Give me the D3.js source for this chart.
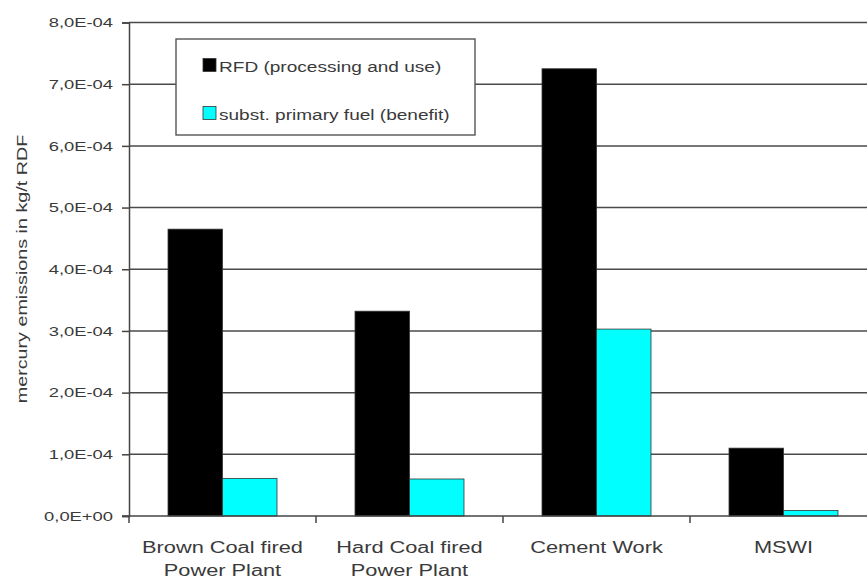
<!DOCTYPE html>
<html>
<head>
<meta charset="utf-8">
<script src="https://cdn.jsdelivr.net/npm/d3@7"></script>
<style>
  html, body { margin: 0; padding: 0; background: #fff; }
  svg { display: block; }
</style>
</head>
<body>
<svg id="chart" width="867" height="583"></svg>
<script>
// Plant types on the x axis (two-line labels)
const categories = ["Brown Coal fired\nPower Plant", "Hard Coal fired\nPower Plant", "Cement Work", "MSWI"];
// Mercury emissions, kg/t RDF
const rfdValues = [4.65e-4, 3.32e-4, 7.25e-4, 1.10e-4];
const benefitValues = [0.61e-4, 0.60e-4, 3.03e-4, 0.09e-4];
const seriesNames = ["RFD (processing and use)", "subst. primary fuel (benefit)"];
const seriesColors = ["#000000", "#00ffff"];
const yTicks = [0, 1e-4, 2e-4, 3e-4, 4e-4, 5e-4, 6e-4, 7e-4, 8e-4];
const yTickLabels = ["0,0E+00", "1,0E-04", "2,0E-04", "3,0E-04", "4,0E-04", "5,0E-04", "6,0E-04", "7,0E-04", "8,0E-04"];

const svg = d3.select("#chart");
const plotLeft = 129, plotRight = 877, plotTop = 22.5, plotBottom = 516;
const font = "Liberation Sans, Arial, sans-serif";
const textColor = "#3a3a3a";
const widen = 1.36; // wide-set lettering

// stretch a text element horizontally along its own baseline
function stretch(sel) {
  sel.each(function () {
    const w = this.getComputedTextLength();
    if (w > 0) d3.select(this).attr("textLength", w * widen).attr("lengthAdjust", "spacingAndGlyphs");
  });
}

const y = d3.scaleLinear().domain([0, 8e-4]).range([plotBottom, plotTop]);
const x0 = d3.scaleBand().domain(categories).range([plotLeft, plotRight]).padding(0);
const x1 = d3.scaleBand().domain([0, 1]).range([0, x0.bandwidth()])
  .paddingInner(0).paddingOuter(0.716);

// horizontal gridlines
svg.append("g").selectAll("line").data(yTicks.slice(1)).join("line")
  .attr("x1", plotLeft).attr("x2", plotRight)
  .attr("y1", d => y(d)).attr("y2", d => y(d))
  .attr("stroke", "#4a4a4a").attr("stroke-width", 1.5);

// bars
const rows = categories.map((c, i) => ({ c, vals: [rfdValues[i], benefitValues[i]] }));
const groups = svg.append("g").selectAll("g").data(rows).join("g")
  .attr("transform", d => `translate(${x0(d.c)},0)`);
groups.selectAll("rect").data(d => d.vals.map((v, k) => ({ v, k }))).join("rect")
  .attr("x", d => x1(d.k))
  .attr("width", x1.bandwidth())
  .attr("y", d => y(d.v))
  .attr("height", d => plotBottom - y(d.v))
  .attr("fill", d => seriesColors[d.k])
  .attr("stroke", "#333").attr("stroke-width", 0.8);

// y axis
const yAxis = d3.axisLeft(y).tickValues(yTicks).tickSize(7).tickPadding(9)
  .tickFormat((d, i) => yTickLabels[i]);
const gy = svg.append("g").attr("transform", `translate(${plotLeft},0)`).call(yAxis);
gy.select(".domain").attr("stroke", "#444").attr("stroke-width", 1.5);
gy.selectAll(".tick line").attr("stroke", "#444").attr("stroke-width", 1.5);
gy.selectAll(".tick text").attr("font-family", font).attr("font-size", 13.5).attr("fill", textColor)
  .call(stretch);

// x axis baseline with tick marks between categories
const gx = svg.append("g");
gx.append("line").attr("x1", plotLeft - 7).attr("x2", plotRight).attr("y1", plotBottom).attr("y2", plotBottom)
  .attr("stroke", "#444").attr("stroke-width", 1.5);
gx.selectAll("line.sep").data(categories).join("line").attr("class", "sep")
  .attr("x1", d => x0(d)).attr("x2", d => x0(d))
  .attr("y1", plotBottom).attr("y2", plotBottom + 7)
  .attr("stroke", "#444").attr("stroke-width", 1.5);
gx.selectAll("text").data(categories).join("text")
  .attr("text-anchor", "middle")
  .attr("font-family", font).attr("font-size", 16).attr("fill", textColor)
  .attr("transform", d => `translate(${x0(d) + x0.bandwidth() / 2},553)`)
  .each(function (d) {
    d.split("\n").forEach((line, i) => {
      d3.select(this).append("tspan").attr("x", 0).attr("y", i * 23).text(line);
    });
  });
gx.selectAll("tspan").call(stretch);

// y axis title
svg.append("text")
  .attr("transform", "translate(27,269) rotate(-90)")
  .attr("text-anchor", "middle")
  .attr("font-family", font).attr("font-size", 14.5).attr("fill", textColor)
  .text("mercury emissions in kg/t RDF")
  .call(stretch);

// legend
const lg = svg.append("g").attr("transform", "translate(176,39)");
lg.append("rect").attr("width", 299).attr("height", 96)
  .attr("fill", "#fff").attr("stroke", "#555").attr("stroke-width", 1.4);
seriesNames.forEach((name, i) => {
  const yy = 19.5 + i * 48;
  lg.append("rect").attr("x", 27).attr("y", yy).attr("width", 13).attr("height", 13)
    .attr("fill", seriesColors[i]).attr("stroke", "#333").attr("stroke-width", 0.8);
  lg.append("text").attr("x", 43).attr("y", yy + 13)
    .attr("font-family", font).attr("font-size", 14).attr("fill", textColor)
    .text(name)
    .call(stretch);
});
</script>
</body>
</html>
